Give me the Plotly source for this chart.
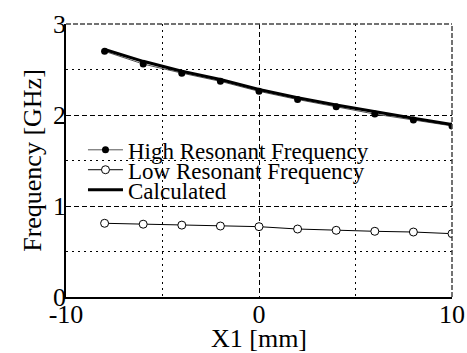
import plotly.graph_objects as go

x_meas = [-8, -6, -4, -2, 0, 2, 4, 6, 8, 10]
high_freq = [2.70, 2.56, 2.46, 2.37, 2.26, 2.17, 2.09, 2.01, 1.945, 1.88]
low_freq = [0.81, 0.80, 0.79, 0.78, 0.773, 0.747, 0.733, 0.722, 0.714, 0.696]
x_calc = [-8, -6, -4, -2, 0, 2, 4, 6, 8, 10]
calc_freq = [2.72, 2.59, 2.48, 2.39, 2.28, 2.19, 2.11, 2.035, 1.965, 1.895]

FONT = "Liberation Serif"

fig = go.Figure()
fig.add_trace(go.Scatter(
    x=x_meas, y=high_freq, mode="lines+markers", name="High Resonant Frequency",
    line=dict(color="#555555", width=1),
    marker=dict(symbol="circle", size=7, color="black"),
    legend="legend",
))
fig.add_trace(go.Scatter(
    x=x_meas, y=low_freq, mode="lines+markers", name="Low Resonant Frequency",
    line=dict(color="black", width=1),
    marker=dict(symbol="circle", size=8, color="white", line=dict(color="black", width=1)),
    legend="legend2",
))
fig.add_trace(go.Scatter(
    x=x_calc, y=calc_freq, mode="lines", name="Calculated",
    line=dict(color="black", width=3),
    legend="legend3",
))

def leg(y):
    return dict(
        x=0.044, y=y, xanchor="left", yanchor="middle",
        bgcolor="rgba(0,0,0,0)", borderwidth=0,
        font=dict(family=FONT, size=23, color="black"),
        itemwidth=35,
    )

fig.update_layout(
    width=467, height=353,
    margin=dict(l=66, r=15, t=24, b=56, autoexpand=False),
    paper_bgcolor="white", plot_bgcolor="white",
    font=dict(family=FONT, size=26, color="black"),
    showlegend=True,
    legend=leg(0.539),
    legend2=leg(0.466),
    legend3=leg(0.393),
    xaxis=dict(
        range=[-10, 10], tickvals=[-10, 0, 10], ticktext=["-10", "0", "10"],
        showline=True, linecolor="black", linewidth=1.5,
        ticks="", zeroline=False, automargin=False,
        showgrid=True, gridcolor="black", gridwidth=1, griddash="5px,3px",
        minor=dict(tickvals=[-5, 5], showgrid=True, gridcolor="black",
                   gridwidth=1, griddash="2px,4px"),
        title=dict(text="X1 [mm]", font=dict(family=FONT, size=26), standoff=16),
        tickfont=dict(family=FONT, size=26),
        ticklabelstandoff=-7,
    ),
    yaxis=dict(
        range=[0, 3], tickvals=[0, 1, 2, 3], ticktext=["0", "1", "2", "3"],
        showline=True, linecolor="black", linewidth=1.5,
        ticks="", zeroline=False, automargin=False,
        showgrid=True, gridcolor="black", gridwidth=1, griddash="5px,3px",
        minor=dict(tickvals=[0.5, 1.5, 2.5], showgrid=True, gridcolor="black",
                   gridwidth=1, griddash="2px,4px"),
        title=dict(text="Frequency [GHz]", font=dict(family=FONT, size=26), standoff=4),
        tickfont=dict(family=FONT, size=26),
        ticklabelstandoff=-7,
    ),
    shapes=[
        dict(type="line", xref="paper", yref="paper", x0=0, x1=1, y0=1, y1=1,
             line=dict(color="#444444", width=1.5, dash="5px,2px")),
        dict(type="line", xref="paper", yref="paper", x0=1, x1=1, y0=0, y1=1,
             line=dict(color="#444444", width=1.5, dash="5px,2px")),
    ],
)

fig.write_html("out.html")
